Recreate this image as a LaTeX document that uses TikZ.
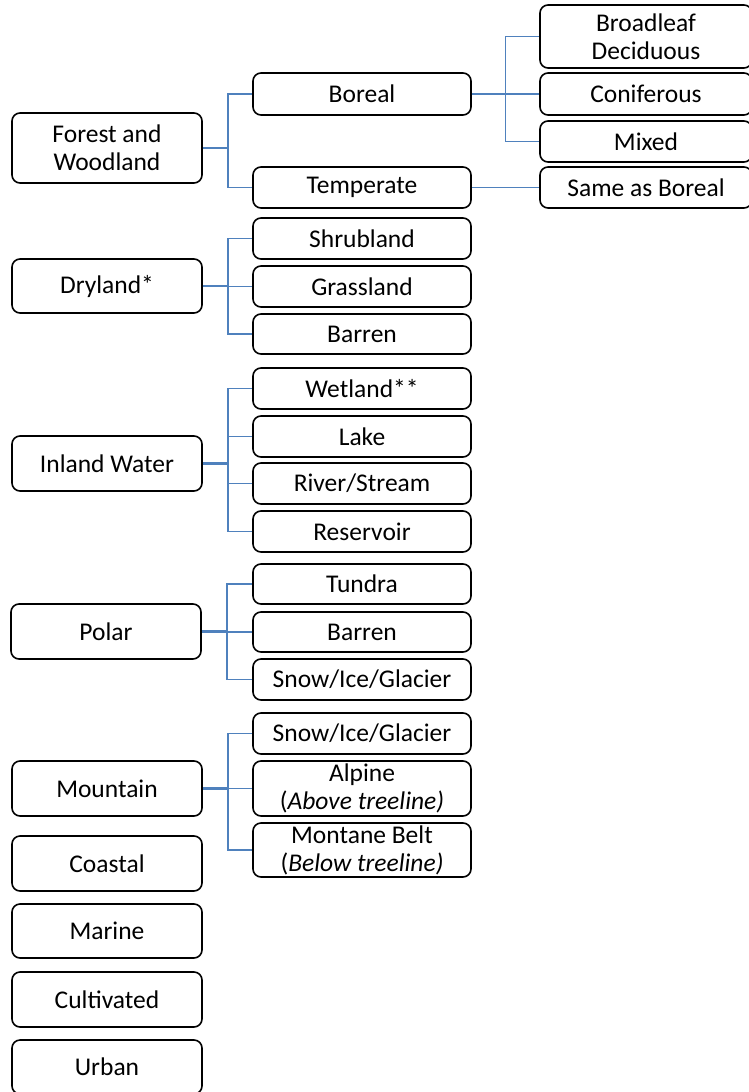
\documentclass[tikz,border=0pt]{standalone}
\usepackage{fontspec}
\setmainfont{Carlito}
\usetikzlibrary{calc}
\definecolor{linkblue}{HTML}{4F81BD}
\tikzset{
  box/.style={draw=black, line width=1.6pt, rounded corners=8pt, fill=white,
    inner sep=0pt, align=center, font=\fontsize{25.5}{28}\selectfont},
  lbox/.style={box, minimum width=190pt},
  mbox/.style={box, minimum width=218pt},
  rbox/.style={box, minimum width=212pt},
  conn/.style={draw=linkblue, line width=1.6pt},
  stub/.style={draw=linkblue, line width=2.6pt},
}
\begin{document}
\begin{tikzpicture}[x=1pt,y=-1pt]
\useasboundingbox (0,0) rectangle (749,1092);
\clip (0,0) rectangle (749,1092);
% left column
\node[lbox, minimum height=70pt] (forest) at (107,148) {Forest and\\Woodland};
\node[lbox, minimum height=54pt] (dry) at (107,286) {Dryland*};
\node[lbox, minimum height=55pt] (inland) at (107,463.5) {Inland Water};
\node[lbox, minimum height=55pt] (polar) at (106,631.5) {Polar};
\node[lbox, minimum height=55pt] (mount) at (107,788.5) {Mountain};
\node[lbox, minimum height=55pt] (coast) at (107,863.5) {Coastal};
\node[lbox, minimum height=54pt] (marine) at (107,931) {Marine};
\node[lbox, minimum height=55pt] (cult) at (107,999.5) {Cultivated};
\node[lbox, minimum height=54pt] (urban) at (107,1067) {Urban};
% middle column
\node[mbox, minimum height=42pt] (boreal) at (362,94) {Boreal};
\node[mbox, minimum height=41pt] (temp) at (362,187.5) {Temperate};
\node[mbox, minimum height=41pt] (shrub) at (362,238.5) {Shrubland};
\node[mbox, minimum height=41pt] (grass) at (362,286.5) {Grassland};
\node[mbox, minimum height=40pt] (barren1) at (362,334) {Barren};
\node[mbox, minimum height=41pt] (wet) at (362,388.5) {Wetland**};
\node[mbox, minimum height=41pt] (lake) at (362,436.5) {Lake};
\node[mbox, minimum height=41pt] (river) at (362,483.5) {River/Stream};
\node[mbox, minimum height=41pt] (reserv) at (362,531.5) {Reservoir};
\node[mbox, minimum height=40pt] (tundra) at (362,584) {Tundra};
\node[mbox, minimum height=40pt] (barren2) at (362,632) {Barren};
\node[mbox, minimum height=41pt] (snow1) at (362,679.5) {Snow/Ice/Glacier};
\node[mbox, minimum height=41pt] (snow2) at (362,733.5) {Snow/Ice/Glacier};
\node[mbox, minimum height=55pt] (alpine) at (362,788.5) {Alpine\\(\textit{Above treeline)}};
\node[mbox, minimum height=54pt] (montane) at (362,850) {Montane Belt\\(\textit{Below treeline)}};
% right column
\node[rbox, minimum height=63pt] (broad) at (646,36.5) {Broadleaf\\Deciduous};
\node[rbox, minimum height=42pt] (conif) at (646,94) {Coniferous};
\node[rbox, minimum height=41pt] (mixed) at (646,141.5) {Mixed};
\node[rbox, minimum height=41pt] (same) at (646,187.5) {Same as Boreal};
% connectors
\foreach \p/\j/\cs in {forest/228/{boreal,temp}, dry/228/{shrub,grass,barren1},
    inland/228/{wet,lake,river,reserv}, polar/227/{tundra,barren2,snow1},
    mount/228/{snow2,alpine,montane}, boreal/505.5/{broad,conif,mixed}}{
  \draw[stub] (\p.east) -- (\p.east -| {(\j,0)});
  \foreach \c in \cs {
    \draw[conn] (\p.east -| {(\j,0)}) |- (\c.west);
  }
}
\draw[conn] (temp.east) -- (same.west);
\end{tikzpicture}
\end{document}
